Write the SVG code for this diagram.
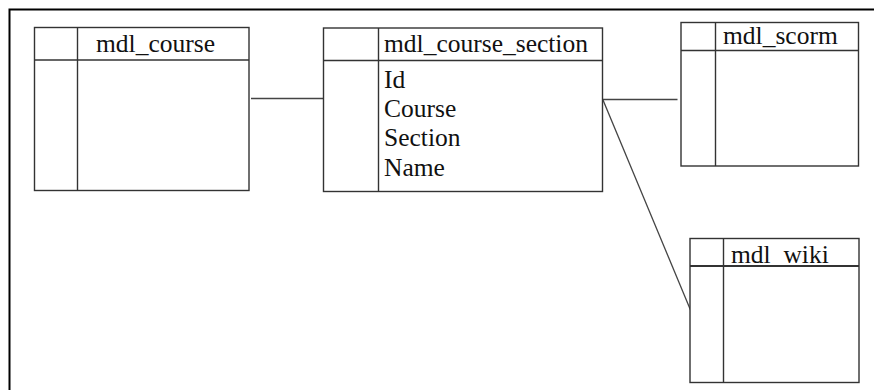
<svg xmlns="http://www.w3.org/2000/svg" width="874" height="390" viewBox="0 0 874 390">
  <style>
    .box { fill: #ffffff; stroke: #333333; stroke-width: 1.4; }
    .div { stroke: #333333; stroke-width: 1.4; }
    .lbl { font-family: 'Liberation Serif', 'Times New Roman', 'DejaVu Serif', serif; font-size: 25.5px; fill: #111111; }
    .conn { stroke: #444444; stroke-width: 1.3; fill: none; }
  </style>
  <rect x="0" y="0" width="874" height="390" fill="#ffffff"/>
  <!-- outer frame -->
  <rect x="9.5" y="9.5" width="900" height="420" fill="none" stroke="#000000" stroke-width="2"/>

  <g id="connectors">
    <line class="conn" x1="251" y1="98.5" x2="323" y2="98.5"/>
    <line class="conn" x1="603" y1="99.5" x2="677.5" y2="99.5"/>
    <line class="conn" x1="603" y1="100" x2="690.5" y2="310"/>
  </g>

  <g id="mdl_course">
    <rect class="box" x="34.5" y="27.5" width="214.5" height="163"/>
    <line class="div" x1="34.5" y1="60" x2="249" y2="60"/>
    <line class="div" x1="77.5" y1="27.5" x2="77.5" y2="190.5"/>
    <text class="lbl" x="96" y="52">mdl_course</text>
  </g>

  <g id="mdl_course_section">
    <rect class="box" x="323.5" y="28" width="279" height="163.5"/>
    <line class="div" x1="323.5" y1="60.5" x2="602.5" y2="60.5"/>
    <line class="div" x1="378.5" y1="28" x2="378.5" y2="191.5"/>
    <text class="lbl" x="384" y="51.5">mdl_course_section</text>
    <text class="lbl" x="384" y="87.5">Id</text>
    <text class="lbl" x="384" y="117">Course</text>
    <text class="lbl" x="384" y="146">Section</text>
    <text class="lbl" x="384" y="176">Name</text>
  </g>

  <g id="mdl_scorm">
    <rect class="box" x="681" y="22.5" width="177.5" height="143.5"/>
    <line class="div" x1="681" y1="50.5" x2="858.5" y2="50.5"/>
    <line class="div" x1="715.5" y1="22.5" x2="715.5" y2="166"/>
    <text class="lbl" x="723" y="43.5">mdl_scorm</text>
  </g>

  <g id="mdl_wiki">
    <rect class="box" x="690" y="238.5" width="169" height="144"/>
    <text class="lbl" x="731" y="262.5">mdl_wiki</text>
    <!-- header rule drawn over the label so the underscore sits under it -->
    <line x1="690" y1="266" x2="859" y2="266" stroke="#333333" stroke-width="1.8"/>
    <line class="div" x1="723.5" y1="238.5" x2="723.5" y2="382.5"/>
  </g>
</svg>
